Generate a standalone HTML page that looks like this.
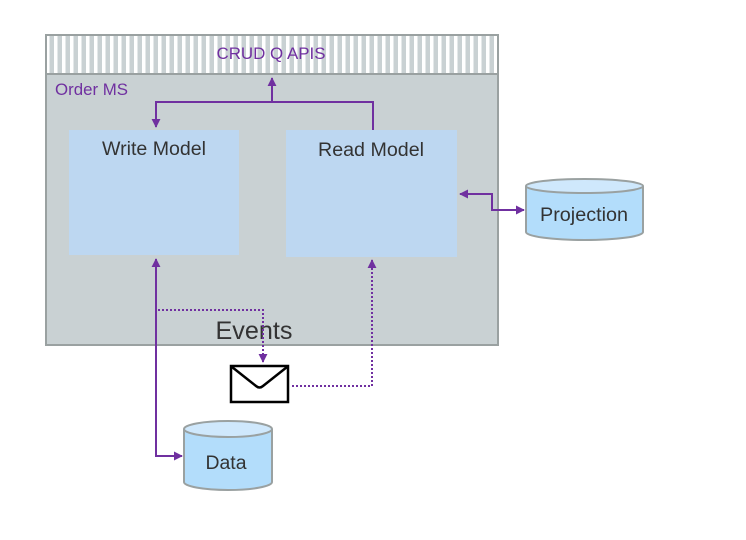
<!DOCTYPE html>
<html><head><meta charset="utf-8"><style>
html,body{margin:0;padding:0;background:#fff;width:746px;height:540px;overflow:hidden}
text{font-family:"Liberation Sans",Arial,sans-serif}
</style></head><body>
<svg width="746" height="540" viewBox="0 0 746 540" xmlns="http://www.w3.org/2000/svg">
<defs>
<pattern id="st" x="46" y="0" width="8" height="10" patternUnits="userSpaceOnUse">
<rect width="8" height="10" fill="#fff"/><rect x="3.5" width="4.5" height="10" fill="#c9d1d3"/>
</pattern>
<marker id="a" viewBox="0 0 10 10" refX="9" refY="5" markerWidth="4.5" markerHeight="4.5" orient="auto-start-reverse"><path d="M0,0L10,5L0,10z" fill="#7030a0"/></marker>
</defs>
<rect x="46" y="35" width="452" height="310" fill="#c9d1d3" stroke="#9aa1a1" stroke-width="2"/>
<rect x="47" y="36" width="450" height="38" fill="url(#st)"/>
<line x1="46" y1="74" x2="498" y2="74" stroke="#9aa1a1" stroke-width="2"/>
<text x="271" y="59" font-size="17" fill="#7030a0" text-anchor="middle" textLength="109" lengthAdjust="spacingAndGlyphs">CRUD Q APIS</text>
<text x="55" y="95" font-size="16.5" fill="#7030a0" textLength="73" lengthAdjust="spacingAndGlyphs">Order MS</text>
<rect x="69" y="130" width="170" height="125" fill="#bdd7f1"/>
<rect x="286" y="130" width="171" height="127" fill="#bdd7f1"/>
<text x="154" y="155" font-size="19" fill="#333" text-anchor="middle" textLength="104" lengthAdjust="spacingAndGlyphs">Write Model</text>
<text x="371" y="156" font-size="19" fill="#333" text-anchor="middle" textLength="106" lengthAdjust="spacingAndGlyphs">Read Model</text>
<text x="254" y="339" font-size="25" fill="#333" text-anchor="middle" textLength="77" lengthAdjust="spacingAndGlyphs">Events</text>
<g stroke="#7030a0" stroke-width="2" fill="none">
<path d="M272,102V78" marker-end="url(#a)"/>
<path d="M373,130V102H156V127" marker-end="url(#a)"/>
<path d="M182,456H156V259" marker-start="url(#a)" marker-end="url(#a)"/>
<path d="M460,194H492V210H524" marker-start="url(#a)" marker-end="url(#a)"/>
</g>
<g stroke="#7030a0" stroke-width="2" fill="none" stroke-dasharray="2,2">
<path d="M158,310H263V362" marker-end="url(#a)"/>
<path d="M292,386H372V260" marker-end="url(#a)"/>
</g>
<rect x="231" y="366" width="57" height="36" fill="#fff" stroke="#000" stroke-width="2.5"/>
<path d="M232,367L256,386Q259.5,389 263,386L287,367" fill="none" stroke="#000" stroke-width="2.5"/>
<g stroke="#9aa1a1" stroke-width="2">
<path d="M526,186V232A58.5,8 0 0 0 643,232V186" fill="#b3ddfb"/>
<ellipse cx="584.5" cy="186" rx="58.5" ry="7" fill="#cfe8fc"/>
<path d="M184,429V482A44,8 0 0 0 272,482V429" fill="#b3ddfb"/>
<ellipse cx="228" cy="429" rx="44" ry="8" fill="#cfe8fc"/>
</g>
<text x="584" y="221" font-size="19" fill="#333" text-anchor="middle" textLength="88" lengthAdjust="spacingAndGlyphs">Projection</text>
<text x="226" y="469" font-size="19" fill="#333" text-anchor="middle" textLength="41" lengthAdjust="spacingAndGlyphs">Data</text>
</svg>
</body></html>
